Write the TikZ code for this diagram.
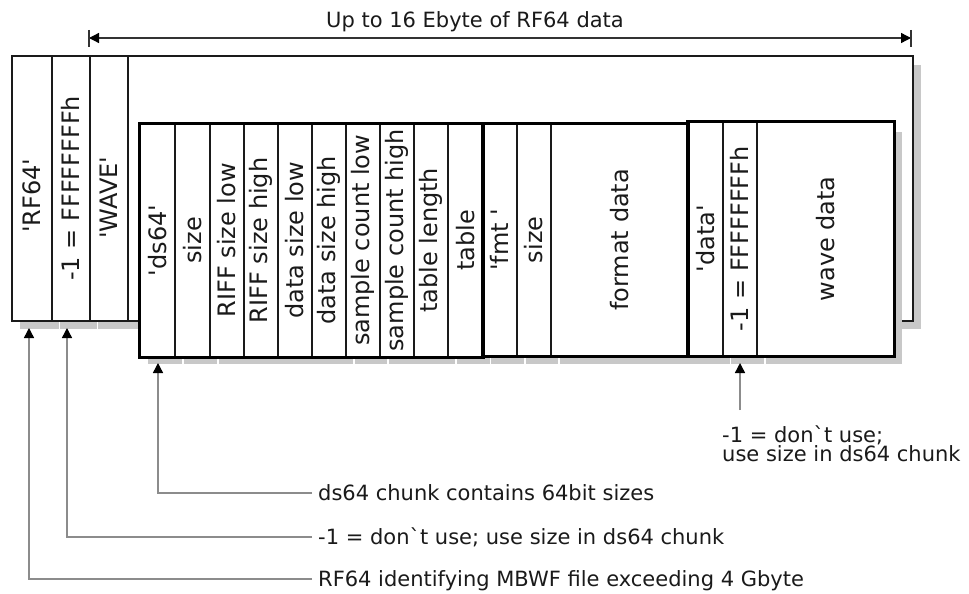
\documentclass[tikz,border=0pt]{standalone}
\usepackage{fontspec}
\newfontfamily\dv{DejaVu Sans}
\usetikzlibrary{arrows.meta}
\definecolor{shadowgray}{HTML}{C8C8C8}
\definecolor{conngray}{HTML}{8C8C8C}
\definecolor{ink}{HTML}{1A1A1A}
\begin{document}
\begin{tikzpicture}[x=1pt,y=-1pt,
  shadow/.style={fill=shadowgray,draw=none},
  gap/.style={draw=white,line width=1.2pt},
  outerbox/.style={draw=ink,line width=1.6pt,fill=white,inner sep=0pt,anchor=north west},
  cell/.style={draw=ink,line width=1.6pt,fill=white,inner sep=0pt,anchor=north west,
    font=\dv\fontsize{24}{28}\selectfont,text=ink},
  chunk/.style={draw=black,line width=3pt},
  titletext/.style={font=\dv\fontsize{21}{25}\selectfont,text=ink,inner sep=0pt},
  note/.style={font=\dv\fontsize{21}{25}\selectfont,text=ink,inner sep=0pt},
  dimline/.style={draw=black!80,line width=1.3pt},
  conn/.style={draw=conngray,line width=1.4pt,-{Triangle[length=10pt,width=10pt,black]}},
  tips/.style={{Triangle[length=10pt,width=10pt,black]}-{Triangle[length=10pt,width=10pt,black]}}
]
\useasboundingbox (0,0) rectangle (969,594);

% outer shadow and box
\fill[shadow] (20,65) rectangle (921,329);
\foreach \g in {59.5,97.5} \draw[gap] (\g,320) -- (\g,329.5);
\node[outerbox,minimum width=901pt,minimum height=265pt] (outer) at (11,55) {};

% inner shadow
\fill[shadow] (148,132) rectangle (902,364);
\foreach \g in {183,218,354,388,456,490.5,525,559,730.5,765} \draw[gap] (\g,356) -- (\g,364.5);

% outer cells
\node[cell,minimum width=40pt,minimum height=265pt] (rf) at (11,55) {\rotatebox{90}{'RF64'\kern15pt}};
\node[cell,minimum width=38pt,minimum height=265pt] (m1) at (51,55) {\rotatebox{90}{-1 = FFFFFFFFh}};
\node[cell,minimum width=38pt,minimum height=265pt] (wave) at (89,55) {\rotatebox{90}{'WAVE'\kern19pt}};

% ds64 chunk
\foreach \x/\w/\t [count=\i] in {139/35/'ds64',174/35/size,209/34/RIFF size low,243/34/RIFF size high,
  277/34/data size low,311/34/data size high,345/34/sample count low,379/34/sample count high,
  413/34/table length,447/35/table}
  \node[cell,minimum width=\w pt,minimum height=233pt] (d\i) at (\x,123) {\rotatebox{90}{\t}};
% fmt chunk
\foreach \x/\w/\t [count=\i] in {482/34/'fmt ',516/34/size,550/137/format data}
  \node[cell,minimum width=\w pt,minimum height=232pt] (f\i) at (\x,123) {\rotatebox{90}{\t}};
% data chunk
\foreach \x/\w/\t [count=\i] in {687/35/'data',722/34/-1 = FFFFFFFFh,756/137/wave data}
  \node[cell,minimum width=\w pt,minimum height=234pt] (a\i) at (\x,121) {\rotatebox{90}{\t}};

\draw[chunk] (d1.north west) rectangle (d10.south east);
\draw[chunk] (f1.north west) rectangle (f3.south east);
\draw[chunk] (a1.north west) rectangle (a3.south east);

% dimension line
\node[titletext,anchor=base] (title) at (475,27.5) {Up to 16 Ebyte of RF64 data};
\coordinate (dimL) at (89,38);
\coordinate (dimR) at (911,38);
\draw[dimline,tips] (dimL) -- (dimR);
\draw[dimline] ([yshift=8pt]dimL) -- ([yshift=-9pt]dimL);
\draw[dimline] ([yshift=8pt]dimR) -- ([yshift=-9pt]dimR);

% connectors
\coordinate (rfTip) at (29,328);
\coordinate (rfEnd) at (312,579);
\coordinate (mTip) at (67,328);
\coordinate (mEnd) at (312,537);
\coordinate (dsTip) at (158,363);
\coordinate (dsEnd) at (312,493);
\coordinate (daTip) at (740,363);
\coordinate (daTail) at (740,410);
\draw[conn] (rfEnd) -| (rfTip);
\draw[conn] (mEnd) -| (mTip);
\draw[conn] (dsEnd) -| (dsTip);
\draw[conn] (daTail) -- (daTip);

\node[note,anchor=base west] (rfNote) at (318,586.5) {RF64 identifying MBWF file exceeding 4 Gbyte};
\node[note,anchor=base west] (mNote) at (318,544.5) {-1 = don`t use; use size in ds64 chunk};
\node[note,anchor=base west] (dsNote) at (318,500.5) {ds64 chunk contains 64bit sizes};
\node[note,anchor=base west] (daNote1) at (722,442) {-1 = don`t use;};
\node[note,anchor=base west] (daNote2) at (722,461) {use size in ds64 chunk};
\end{tikzpicture}
\end{document}
